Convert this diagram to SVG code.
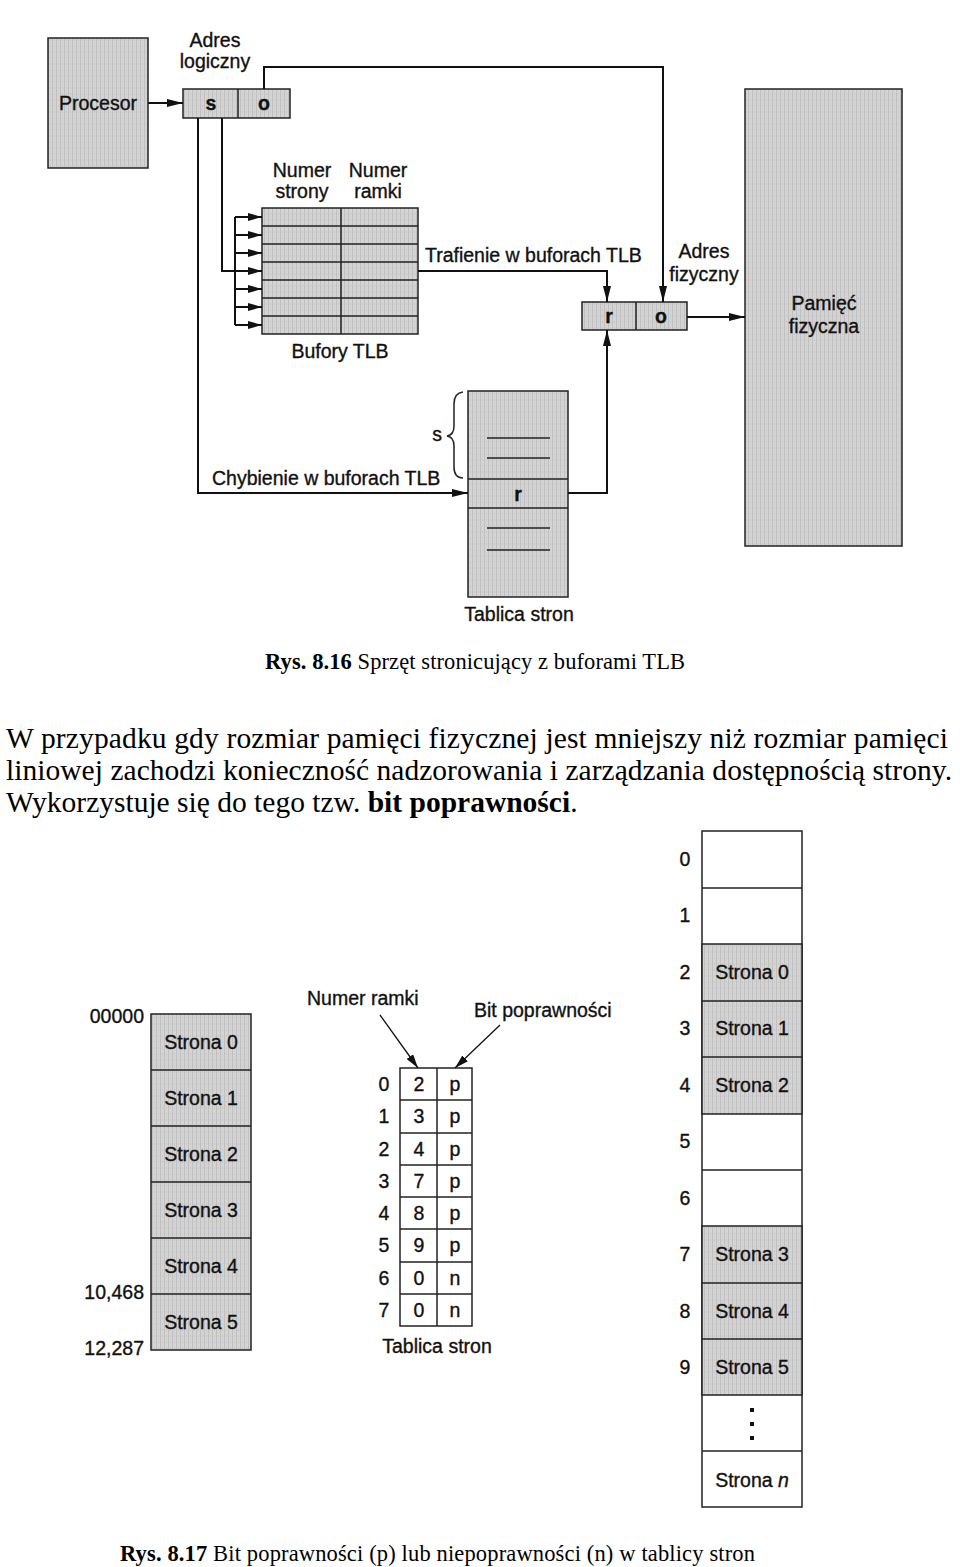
<svg xmlns="http://www.w3.org/2000/svg" width="960" height="1567" viewBox="0 0 960 1567">
<defs>
<pattern id="scan" width="4" height="6" patternUnits="userSpaceOnUse">
<rect width="4" height="6" fill="#d4d4d4"/>
<rect x="0" y="0" width="1" height="6" fill="#c0c0c0"/>
<rect x="2" y="3" width="1" height="2" fill="#c8c8c8"/>
</pattern>
<marker id="ah" viewBox="0 0 16 8" refX="16" refY="4" markerWidth="16" markerHeight="8" markerUnits="userSpaceOnUse" orient="auto">
<path d="M0,0 L16,4 L0,8 Z" fill="#111"/>
</marker>
<marker id="ahs" viewBox="0 0 14 8" refX="14" refY="4" markerWidth="14" markerHeight="8" markerUnits="userSpaceOnUse" orient="auto">
<path d="M0,0 L14,4 L0,8 Z" fill="#111"/>
</marker>
<clipPath id="cut"><rect x="0" y="700" width="960" height="118"/></clipPath>
</defs>
<style>
.box{fill:url(#scan);stroke:#222;stroke-width:1.5}
.wbox{fill:#fff;stroke:#222;stroke-width:1.5}
.ln{stroke:#222;stroke-width:1.5;fill:none}
.con{stroke:#111;stroke-width:2;fill:none}
.s{font-family:"Liberation Sans",Arial,sans-serif;font-size:19.5px;fill:#111;stroke:#111;stroke-width:0.35}
.b{font-weight:bold}
.m{text-anchor:middle}
.e{text-anchor:end}
.serif{font-family:"Liberation Serif","Times New Roman",serif;fill:#000}
</style>

<!-- ===== Figure 8.16 ===== -->
<g id="procesor">
<rect class="box" x="48" y="38" width="100" height="130"/>
<text class="s m" x="98" y="110">Procesor</text>
</g>
<g id="adres-logiczny">
<text class="s m" x="215" y="47">Adres</text>
<text class="s m" x="215" y="68">logiczny</text>
<rect class="box" x="183" y="89" width="107" height="29"/>
<line class="ln" x1="238" y1="89" x2="238" y2="118"/>
<text class="s m b" x="211" y="110">s</text>
<text class="s m b" x="264" y="110">o</text>
</g>
<g id="bufory-tlb">
<text class="s m" x="302" y="177">Numer</text>
<text class="s m" x="302" y="198">strony</text>
<text class="s m" x="378" y="177">Numer</text>
<text class="s m" x="378" y="198">ramki</text>
<rect class="box" x="262" y="208" width="156" height="126"/>
<line class="ln" x1="341" y1="208" x2="341" y2="334"/>
<line class="ln" x1="262" y1="226" x2="418" y2="226"/>
<line class="ln" x1="262" y1="244" x2="418" y2="244"/>
<line class="ln" x1="262" y1="262" x2="418" y2="262"/>
<line class="ln" x1="262" y1="280" x2="418" y2="280"/>
<line class="ln" x1="262" y1="298" x2="418" y2="298"/>
<line class="ln" x1="262" y1="316" x2="418" y2="316"/>
<text class="s m" x="340" y="358">Bufory TLB</text>
</g>
<g id="adres-fizyczny">
<text class="s m" x="704" y="258">Adres</text>
<text class="s m" x="704" y="281">fizyczny</text>
<rect class="box" x="582" y="302" width="105" height="28"/>
<line class="ln" x1="636" y1="302" x2="636" y2="330"/>
<text class="s m b" x="609" y="323">r</text>
<text class="s m b" x="661" y="323">o</text>
</g>
<g id="pamiec-fizyczna">
<rect class="box" x="745" y="89" width="157" height="457"/>
<text class="s m" x="824" y="310">Pamięć</text>
<text class="s m" x="824" y="333">fizyczna</text>
</g>
<g id="tablica-stron-1">
<rect class="box" x="468" y="391" width="100" height="206"/>
<line class="ln" x1="468" y1="479" x2="568" y2="479"/>
<line class="ln" x1="468" y1="508" x2="568" y2="508"/>
<line class="ln" x1="487" y1="438" x2="550" y2="438"/>
<line class="ln" x1="487" y1="458" x2="550" y2="458"/>
<line class="ln" x1="487" y1="528" x2="550" y2="528"/>
<line class="ln" x1="487" y1="550" x2="550" y2="550"/>
<text class="s m b" x="518" y="501">r</text>
<path class="ln" d="M463,392 Q454,393 454,404 L454,426 Q454,435 447,436 Q454,437 454,446 L454,467 Q454,478 463,478"/>
<text class="s m" x="437" y="441">s</text>
<text class="s m" x="519" y="621">Tablica stron</text>
</g>
<g id="connectors-1">
<path class="con" d="M148,103 L183,103" marker-end="url(#ah)"/>
<path class="con" d="M264,89 L264,67 L663,67 L663,302" marker-end="url(#ah)"/>
<path class="con" d="M198,118 L198,493 L468,493" marker-end="url(#ah)"/>
<path class="con" d="M222,118 L222,271 L262,271" marker-end="url(#ahs)"/>
<path class="con" d="M235,217 L235,325"/>
<path class="con" d="M235,217 L262,217" marker-end="url(#ahs)"/>
<path class="con" d="M235,235 L262,235" marker-end="url(#ahs)"/>
<path class="con" d="M235,253 L262,253" marker-end="url(#ahs)"/>
<path class="con" d="M235,289 L262,289" marker-end="url(#ahs)"/>
<path class="con" d="M235,307 L262,307" marker-end="url(#ahs)"/>
<path class="con" d="M235,325 L262,325" marker-end="url(#ahs)"/>
<path class="con" d="M418,271 L607,271 L607,302" marker-end="url(#ah)"/>
<path class="con" d="M568,493 L607,493 L607,330" marker-end="url(#ah)"/>
<path class="con" d="M687,317 L745,317" marker-end="url(#ah)"/>
<text class="s" x="425" y="262">Trafienie w buforach TLB</text>
<text class="s" x="212" y="485">Chybienie w buforach TLB</text>
</g>
<text class="serif" x="265" y="669" font-size="22.5" textLength="420" lengthAdjust="spacing"><tspan font-weight="bold">Rys. 8.16</tspan>  Sprzęt stronicujący z buforami TLB</text>

<!-- ===== Paragraph ===== -->
<text class="serif" x="6" y="748" font-size="29.5" textLength="942" lengthAdjust="spacing">W przypadku gdy rozmiar pamięci fizycznej jest mniejszy niż rozmiar pamięci</text>
<text class="serif" x="6" y="780" font-size="29.5" textLength="946" lengthAdjust="spacing">liniowej zachodzi konieczność nadzorowania i zarządzania dostępnością strony.</text>
<text class="serif" x="6" y="812" font-size="29.5" clip-path="url(#cut)">Wykorzystuje się do tego tzw. <tspan font-weight="bold">bit poprawności</tspan>.</text>

<!-- ===== Figure 8.17 ===== -->
<g id="pamiec-logiczna">
<rect class="box" x="151" y="1014" width="100" height="336"/>
<line class="ln" x1="151" y1="1070" x2="251" y2="1070"/>
<line class="ln" x1="151" y1="1126" x2="251" y2="1126"/>
<line class="ln" x1="151" y1="1182" x2="251" y2="1182"/>
<line class="ln" x1="151" y1="1238" x2="251" y2="1238"/>
<line class="ln" x1="151" y1="1294" x2="251" y2="1294"/>
<text class="s m" x="201" y="1049">Strona 0</text>
<text class="s m" x="201" y="1105">Strona 1</text>
<text class="s m" x="201" y="1161">Strona 2</text>
<text class="s m" x="201" y="1217">Strona 3</text>
<text class="s m" x="201" y="1273">Strona 4</text>
<text class="s m" x="201" y="1329">Strona 5</text>
<text class="s e" x="144" y="1023">00000</text>
<text class="s e" x="144" y="1299">10,468</text>
<text class="s e" x="144" y="1355">12,287</text>
</g>
<g id="tablica-stron-2">
<text class="s" x="307" y="1005">Numer ramki</text>
<text class="s" x="474" y="1017">Bit poprawności</text>
<rect class="wbox" x="400" y="1068" width="72" height="258"/>
<line class="ln" x1="437" y1="1068" x2="437" y2="1326"/>
<line class="ln" x1="400" y1="1100" x2="472" y2="1100"/>
<line class="ln" x1="400" y1="1133" x2="472" y2="1133"/>
<line class="ln" x1="400" y1="1165" x2="472" y2="1165"/>
<line class="ln" x1="400" y1="1197" x2="472" y2="1197"/>
<line class="ln" x1="400" y1="1229" x2="472" y2="1229"/>
<line class="ln" x1="400" y1="1262" x2="472" y2="1262"/>
<line class="ln" x1="400" y1="1294" x2="472" y2="1294"/>
<g class="s m">
<text x="384" y="1091">0</text><text x="419" y="1091">2</text><text x="455" y="1091">p</text>
<text x="384" y="1123">1</text><text x="419" y="1123">3</text><text x="455" y="1123">p</text>
<text x="384" y="1156">2</text><text x="419" y="1156">4</text><text x="455" y="1156">p</text>
<text x="384" y="1188">3</text><text x="419" y="1188">7</text><text x="455" y="1188">p</text>
<text x="384" y="1220">4</text><text x="419" y="1220">8</text><text x="455" y="1220">p</text>
<text x="384" y="1252">5</text><text x="419" y="1252">9</text><text x="455" y="1252">p</text>
<text x="384" y="1285">6</text><text x="419" y="1285">0</text><text x="455" y="1285">n</text>
<text x="384" y="1317">7</text><text x="419" y="1317">0</text><text x="455" y="1317">n</text>
</g>
<text class="s m" x="437" y="1353">Tablica stron</text>
</g>
<g id="connectors-2">
<path stroke="#111" stroke-width="1.3" fill="none" d="M380,1015 L418,1068" marker-end="url(#ahs)"/>
<path stroke="#111" stroke-width="1.3" fill="none" d="M500,1025 L455,1068" marker-end="url(#ahs)"/>
</g>
<g id="pamiec-fizyczna-2">
<rect class="wbox" x="702" y="831" width="100" height="676"/>
<rect class="box" x="702" y="944" width="100" height="170"/>
<rect class="box" x="702" y="1226" width="100" height="169"/>
<line class="ln" x1="702" y1="888" x2="802" y2="888"/>
<line class="ln" x1="702" y1="1001" x2="802" y2="1001"/>
<line class="ln" x1="702" y1="1057" x2="802" y2="1057"/>
<line class="ln" x1="702" y1="1170" x2="802" y2="1170"/>
<line class="ln" x1="702" y1="1283" x2="802" y2="1283"/>
<line class="ln" x1="702" y1="1339" x2="802" y2="1339"/>
<line class="ln" x1="702" y1="1451" x2="802" y2="1451"/>
<g class="s m">
<text x="685" y="866">0</text>
<text x="685" y="922">1</text>
<text x="685" y="979">2</text>
<text x="685" y="1035">3</text>
<text x="685" y="1092">4</text>
<text x="685" y="1148">5</text>
<text x="685" y="1205">6</text>
<text x="685" y="1261">7</text>
<text x="685" y="1318">8</text>
<text x="685" y="1374">9</text>
<text x="752" y="979">Strona 0</text>
<text x="752" y="1035">Strona 1</text>
<text x="752" y="1092">Strona 2</text>
<text x="752" y="1261">Strona 3</text>
<text x="752" y="1318">Strona 4</text>
<text x="752" y="1374">Strona 5</text>
<text x="752" y="1487">Strona <tspan font-style="italic">n</tspan></text>
</g>
<rect x="750" y="1408" width="4" height="4" fill="#111"/>
<rect x="750" y="1422" width="4" height="4" fill="#111"/>
<rect x="750" y="1436" width="4" height="4" fill="#111"/>
</g>
<text class="serif" x="120" y="1561" font-size="22.5" textLength="635" lengthAdjust="spacing"><tspan font-weight="bold">Rys. 8.17</tspan>  Bit poprawności (p) lub niepoprawności (n) w tablicy stron</text>
</svg>
